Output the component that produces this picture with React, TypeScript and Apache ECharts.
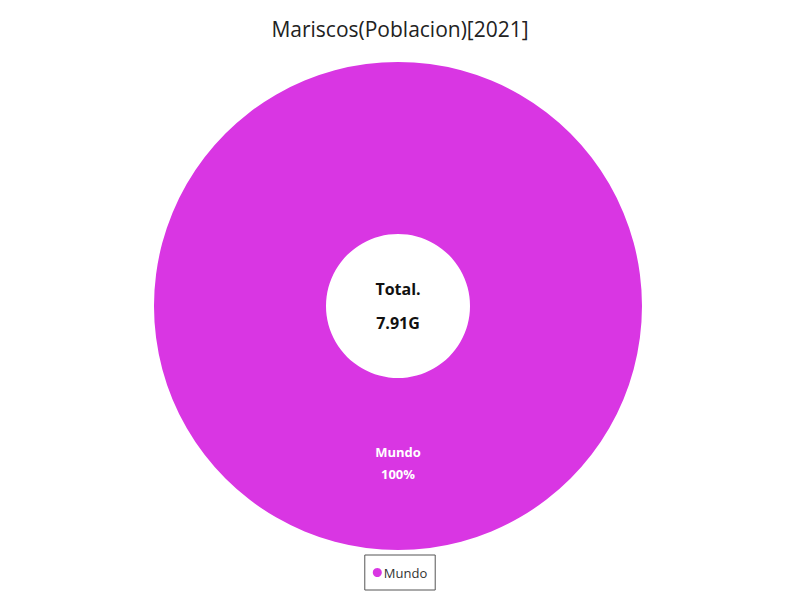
import { useEffect, useRef } from "react";
import * as echarts from "echarts";

const TITLE = "Mariscos(Poblacion)[2021]";
const NAMES = ["Mundo"];
const VALUES = [7.91e9];
const COLORS = ["#d936e3"];
const TOTAL_LABEL = "Total.";
const TOTAL_TEXT = "7.91G";

const FONT = "'Open Sans', 'Noto Sans', sans-serif";

export default function App() {
  const chartRef = useRef<HTMLDivElement>(null);

  useEffect(() => {
    if (!chartRef.current) return;
    const chart = echarts.init(chartRef.current, null, { renderer: "svg" });

    const total = VALUES.reduce((s, v) => s + v, 0);

    chart.setOption({
      animation: false,
      color: COLORS,
      textStyle: { fontFamily: FONT },
      title: {
        text: TITLE,
        left: "center",
        top: 13,
        textStyle: { fontSize: 21, fontWeight: "normal", color: "#222", fontFamily: FONT },
      },
      legend: {
        data: NAMES,
        bottom: 10,
        left: "center",
        icon: "circle",
        itemWidth: 9,
        itemHeight: 9,
        itemGap: 4,
        padding: [11, 8],
        borderColor: "#555",
        borderWidth: 1,
        textStyle: { fontSize: 13, color: "#333", fontFamily: FONT, padding: [0, 0, 0, -3] },
      },
      graphic: [
        {
          type: "text",
          x: 398,
          y: 289,
          style: {
            text: TOTAL_LABEL,
            align: "center",
            verticalAlign: "middle",
            font: `bold 16px ${FONT}`,
            fill: "#111",
          },
        },
        {
          type: "text",
          x: 398,
          y: 323,
          style: {
            text: TOTAL_TEXT,
            align: "center",
            verticalAlign: "middle",
            font: `bold 16px ${FONT}`,
            fill: "#111",
          },
        },
      ],
      series: [
        {
          type: "pie",
          center: [398, 306],
          radius: [72, 244],
          startAngle: 90,
          data: NAMES.map((n, i) => ({ name: n, value: VALUES[i] })),
          label: {
            show: true,
            position: "inside",
            formatter: (p: any) => `${p.name}\n${Math.round((p.value / total) * 100)}%`,
            color: "#fff",
            fontWeight: "bold",
            fontSize: 13,
            lineHeight: 22,
            fontFamily: FONT,
            offset: [0, -4],
          },
          labelLine: { show: false },
          itemStyle: { borderWidth: 0 },
          emphasis: { disabled: true },
        },
      ],
    });

    return () => chart.dispose();
  }, []);

  return (
    <div
      ref={chartRef}
      style={{ position: "absolute", left: 0, top: 0, width: 800, height: 600, background: "#fff" }}
    />
  );
}
